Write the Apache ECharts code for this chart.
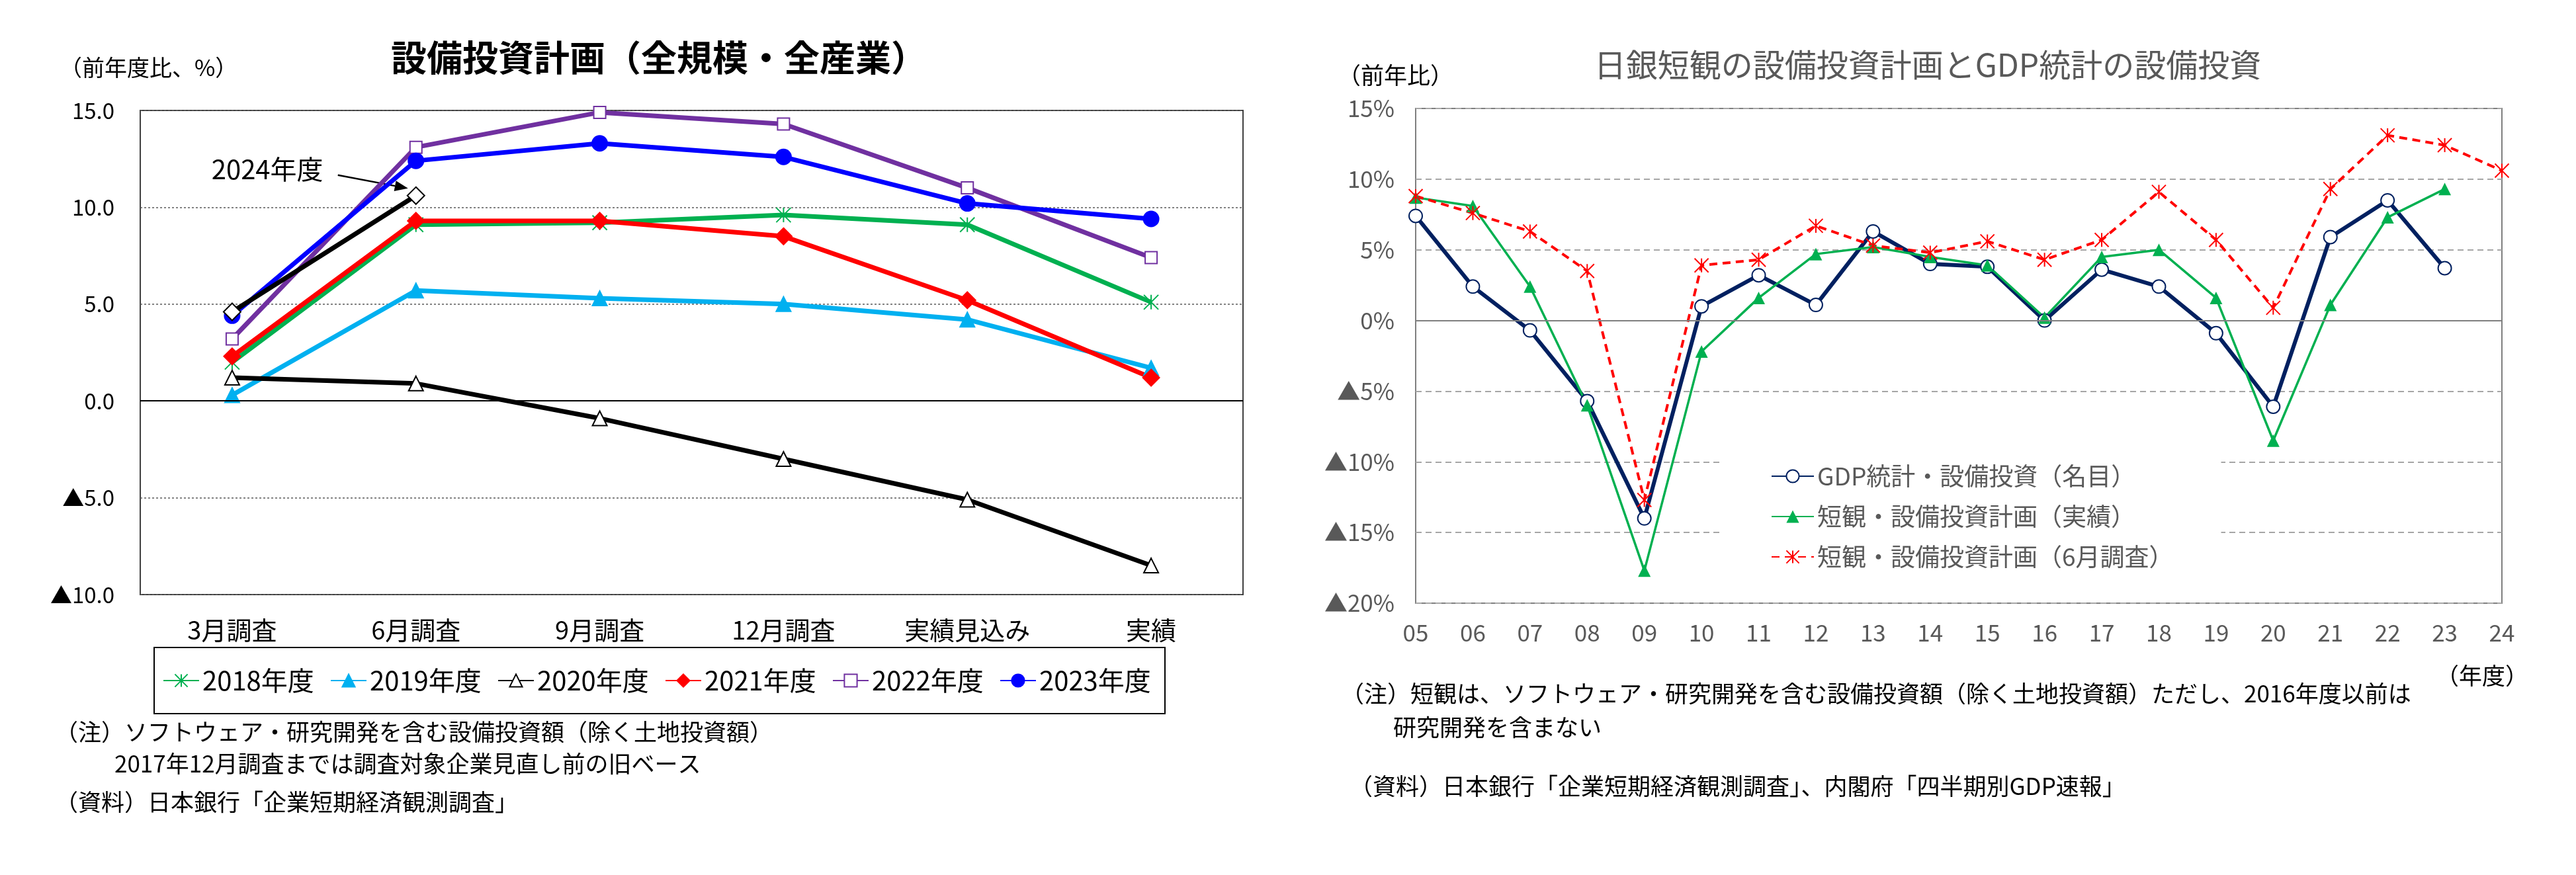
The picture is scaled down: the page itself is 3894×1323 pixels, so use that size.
<!DOCTYPE html>
<html>
<head>
<meta charset="utf-8">
<script src="https://cdn.jsdelivr.net/npm/echarts@6/dist/echarts.min.js"></script>
<style>
  html, body { margin: 0; padding: 0; background: #fff; }
  #chart { width: 3894px; height: 1323px; }
</style>
</head>
<body>
<div id="chart"></div>
<script>
// left chart: plan revisions by survey round
const surveyRounds = ['3月調査', '6月調査', '9月調査', '12月調査', '実績見込み', '実績'];
const fy2018 = [2.0, 9.1, 9.2, 9.6, 9.1, 5.1];
const fy2019 = [0.3, 5.7, 5.3, 5.0, 4.2, 1.7];
const fy2020 = [1.2, 0.9, -0.9, -3.0, -5.1, -8.5];
const fy2021 = [2.3, 9.3, 9.3, 8.5, 5.2, 1.2];
const fy2022 = [3.2, 13.1, 14.9, 14.3, 11.0, 7.4];
const fy2023 = [4.4, 12.4, 13.3, 12.6, 10.2, 9.4];
const fy2024 = [4.6, 10.6, null, null, null, null];

// right chart: tankan vs GDP
const fiscalYears = ['05', '06', '07', '08', '09', '10', '11', '12', '13', '14',
                     '15', '16', '17', '18', '19', '20', '21', '22', '23', '24'];
const gdpCapex = [7.4, 2.4, -0.7, -5.7, -14.0, 1.0, 3.2, 1.1, 6.3, 4.0,
                  3.8, 0.0, 3.6, 2.4, -0.9, -6.1, 5.9, 8.5, 3.7, null];
const tankanActual = [8.7, 8.1, 2.4, -6.0, -17.7, -2.2, 1.6, 4.7, 5.2, 4.5,
                      3.9, 0.2, 4.5, 5.0, 1.6, -8.5, 1.1, 7.3, 9.3, null];
const tankanJunePlan = [8.8, 7.6, 6.3, 3.5, -12.7, 3.9, 4.3, 6.7, 5.3, 4.8,
                        5.6, 4.3, 5.7, 9.1, 5.7, 0.9, 9.3, 13.1, 12.4, 10.6];

const FONT = '"Noto Sans CJK JP", "Noto Sans", sans-serif';
const STAR = 'path://M0,0L20,20M20,0L0,20M10,0L10,20';

const chart = echarts.init(document.getElementById('chart'));

function tri(v) {
    // negative numbers are written with ▲
    return v < 0 ? '▲' + Math.abs(v) : String(v);
}

function leftLine(name, data, color, symbol, size, fill, extra) {
    return Object.assign({
        name: name,
        type: 'line',
        xAxisIndex: 0,
        yAxisIndex: 0,
        data: data,
        symbol: symbol,
        symbolSize: size,
        lineStyle: { color: color, width: 7 },
        itemStyle: { color: fill, borderColor: color, borderWidth: 2 },
        z: 3
    }, extra || {});
}

function text(id, str, x, y, size, opts) {
    return Object.assign({
        type: 'text',
        id: id,
        x: x,
        y: y,
        silent: true,
        style: Object.assign({
            text: str,
            fontFamily: FONT,
            fontSize: size,
            fill: '#000',
            align: 'left',
            verticalAlign: 'middle'
        }, opts || {})
    });
}

const option = {
    animation: false,
    backgroundColor: '#fff',
    textStyle: { fontFamily: FONT },
    grid: [
        { left: 212, top: 167, width: 1667, height: 732, show: true,
          borderColor: '#404040', borderWidth: 2, backgroundColor: '#fff' },
        { left: 2140, top: 164, width: 1642, height: 748, show: true,
          borderColor: '#7f7f7f', borderWidth: 2, backgroundColor: '#fff' }
    ],
    xAxis: [
        { gridIndex: 0, type: 'category', data: surveyRounds, boundaryGap: true,
          axisLine: { show: false }, axisTick: { show: false },
          axisLabel: { interval: 0, fontSize: 38, color: '#000', margin: 35, fontFamily: FONT } },
        { gridIndex: 1, type: 'category', data: fiscalYears, boundaryGap: false,
          axisLine: { show: false }, axisTick: { show: false },
          axisLabel: { interval: 0, fontSize: 35, color: '#595959', margin: 27, fontFamily: FONT } }
    ],
    yAxis: [
        { gridIndex: 0, type: 'value', min: -10, max: 15, interval: 5,
          axisLine: { show: false }, axisTick: { show: false },
          axisLabel: { fontSize: 33, color: '#000', margin: 39, fontFamily: FONT,
                       formatter: v => v < 0 ? '▲' + Math.abs(v).toFixed(1) : v.toFixed(1) },
          splitLine: { lineStyle: { type: [3, 3], color: '#595959', width: 1.5 } } },
        { gridIndex: 1, type: 'value', min: -20, max: 15, interval: 5,
          axisLine: { show: false }, axisTick: { show: false },
          axisLabel: { fontSize: 35, color: '#595959', margin: 32, fontFamily: FONT,
                       formatter: v => tri(v) + '%' },
          splitLine: { lineStyle: { type: [9, 6], color: '#a6a6a6', width: 2 } } }
    ],
    legend: [
        {
            data: ['2018年度', '2019年度', '2020年度', '2021年度', '2022年度', '2023年度'],
            left: 233, top: 979, orient: 'horizontal', selectedMode: false,
            padding: [26, 0, 26, 13], itemGap: 3, itemWidth: 54, itemHeight: 24,
            borderColor: '#000', borderWidth: 2, backgroundColor: '#fff',
            textStyle: { fontSize: 40, width: 190, color: '#000', lineHeight: 48, fontFamily: FONT }
        },
        {
            data: ['GDP統計・設備投資（名目）', '短観・設備投資計画（実績）', '短観・設備投資計画（6月調査）'],
            left: 2600, top: 688, orient: 'vertical', selectedMode: false,
            padding: [10, 72, 10, 77], itemGap: 17, itemWidth: 64, itemHeight: 24,
            backgroundColor: '#fff',
            textStyle: { fontSize: 37, color: '#595959', lineHeight: 44, fontFamily: FONT }
        }
    ],
    series: [
        leftLine('2018年度', fy2018, '#00b050', STAR, 22, '#00b050', {
            markLine: {
                silent: true, symbol: 'none', label: { show: false },
                lineStyle: { type: 'solid', color: '#000', width: 2 },
                data: [{ yAxis: 0 }]
            }
        }),
        leftLine('2019年度', fy2019, '#00b0f0', 'triangle', 22, '#00b0f0'),
        leftLine('2020年度', fy2020, '#000000', 'triangle', 22, '#ffffff'),
        leftLine('2021年度', fy2021, '#ff0000', 'diamond', 25, '#ff0000'),
        leftLine('2022年度', fy2022, '#7030a0', 'rect', 18, '#ffffff'),
        leftLine('2023年度', fy2023, '#0000ff', 'circle', 23, '#0000ff'),
        leftLine('2024年度', fy2024, '#000000', 'diamond', 26, '#ffffff', { connectNulls: false }),

        {
            name: 'GDP統計・設備投資（名目）', type: 'line', xAxisIndex: 1, yAxisIndex: 1,
            data: gdpCapex, symbol: 'circle', symbolSize: 20,
            lineStyle: { color: '#002060', width: 6 },
            itemStyle: { color: '#ffffff', borderColor: '#002060', borderWidth: 2 },
            markLine: {
                silent: true, symbol: 'none', label: { show: false },
                lineStyle: { type: 'solid', color: '#7f7f7f', width: 2 },
                data: [{ yAxis: 0 }]
            }
        },
        {
            name: '短観・設備投資計画（実績）', type: 'line', xAxisIndex: 1, yAxisIndex: 1,
            data: tankanActual, symbol: 'triangle', symbolSize: 19,
            lineStyle: { color: '#00b050', width: 3.5 },
            itemStyle: { color: '#00b050' }
        },
        {
            name: '短観・設備投資計画（6月調査）', type: 'line', xAxisIndex: 1, yAxisIndex: 1,
            data: tankanJunePlan, symbol: STAR, symbolSize: 21,
            lineStyle: { color: '#ff0000', width: 4, type: [12, 8] },
            itemStyle: { color: '#ff0000', borderColor: '#ff0000', borderWidth: 2 }
        }
    ],
    graphic: [
        text('ltitle', '設備投資計画（全規模・全産業）', 996, 87, 54, { fontWeight: 'bold', align: 'center' }),
        text('lunit', '（前年度比、%）', 90, 102, 34),
        text('lnote1', '（注）ソフトウェア・研究開発を含む設備投資額（除く土地投資額）', 83, 1107, 35),
        text('lnote2', '2017年12月調査までは調査対象企業見直し前の旧ベース', 173, 1155, 35),
        text('lnote3', '（資料）日本銀行「企業短期経済観測調査」', 83, 1213, 35),

        text('rtitle', '日銀短観の設備投資計画とGDP統計の設備投資', 2914, 98, 48, { fill: '#595959', align: 'center' }),
        text('runit', '（前年比）', 2022, 114, 35),
        text('rxname', '（年度）', 3682, 1022, 35),
        text('rnote1', '（注）短観は、ソフトウェア・研究開発を含む設備投資額（除く土地投資額）ただし、2016年度以前は', 2027, 1049, 35),
        text('rnote2', '研究開発を含まない', 2106, 1100, 35),
        text('rnote3', '（資料）日本銀行「企業短期経済観測調査」、内閣府「四半期別GDP速報」', 2040, 1189, 35)
    ]
};

chart.setOption(option);

// 2024年度 label with arrow, placed relative to its 6月調査 point
const p = chart.convertToPixel({ xAxisIndex: 0, yAxisIndex: 0 }, [surveyRounds[1], fy2024[1]]);
const start = [p[0] - 118, p[1] - 31];
const tip = [p[0] - 12, p[1] - 11];
const dx = tip[0] - start[0], dy = tip[1] - start[1];
const len = Math.sqrt(dx * dx + dy * dy);
const ux = dx / len, uy = dy / len;
const headLen = 20, headHalf = 8;
const bx = tip[0] - ux * headLen, by = tip[1] - uy * headLen;

chart.setOption({
    graphic: [
        text('label2024', '2024年度', p[0] - 309, p[1] - 40, 40),
        { type: 'line', id: 'arrowShaft', silent: true,
          shape: { x1: start[0], y1: start[1], x2: bx, y2: by },
          style: { stroke: '#000', lineWidth: 2.5 } },
        { type: 'polygon', id: 'arrowHead', silent: true,
          shape: { points: [tip, [bx - uy * headHalf, by + ux * headHalf], [bx + uy * headHalf, by - ux * headHalf]] },
          style: { fill: '#000' } }
    ]
});

window.addEventListener('resize', function() {
    chart.resize();
});
</script>
</body>
</html>
